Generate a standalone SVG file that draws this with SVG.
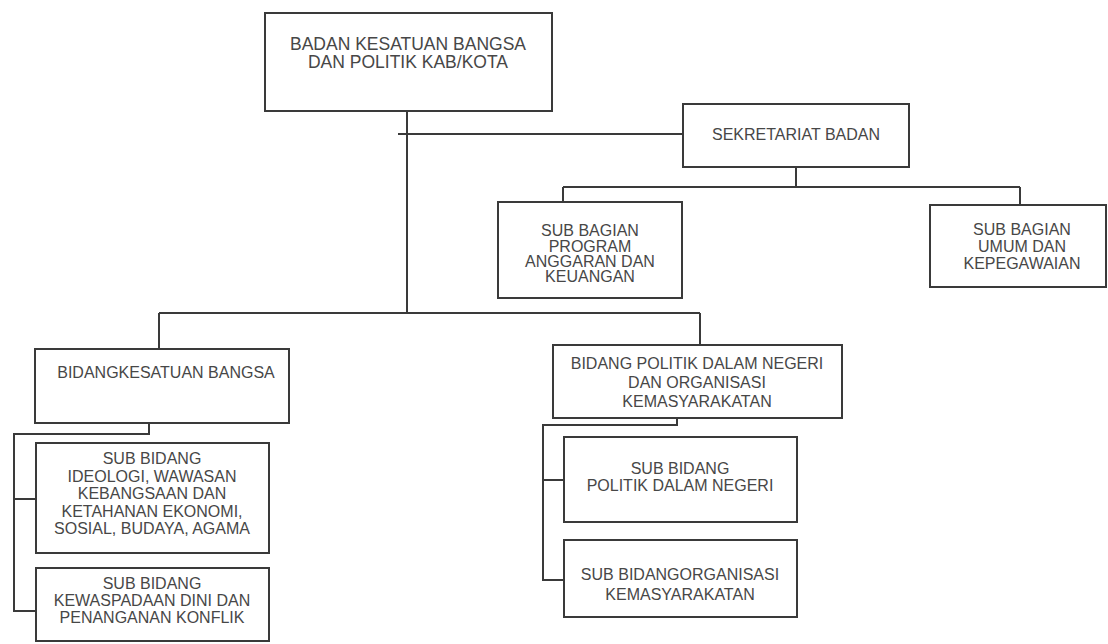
<svg xmlns="http://www.w3.org/2000/svg" width="1108" height="644" viewBox="0 0 1108 644">
<style>
.box{fill:#fff;stroke:#3a3a3a;stroke-width:2}
.ln{fill:none;stroke:#3a3a3a;stroke-width:2}
text{font-family:"Liberation Sans",Arial,sans-serif;font-size:16px;fill:#474747;text-anchor:middle}
.big{font-size:17.5px}
</style>
<rect width="1108" height="644" fill="#fff"/>
<g id="connectors">
<path class="ln" d="M407 111V313M398 134H683M159 313H700M159 313V349M700 313V345"/>
<path class="ln" d="M796 167V187M563 187H1020M563 187V202M1020 187V205"/>
<path class="ln" d="M149 423V434H14V611H36M14 499H36"/>
<path class="ln" d="M677 418V425H543V580H564M543 480H564"/>
</g>
<g id="n-badan">
<rect class="box" x="265" y="13" width="287" height="98"/>
<text class="big" x="408" y="50">BADAN KESATUAN BANGSA</text>
<text class="big" x="408" y="68">DAN POLITIK KAB/KOTA</text>
</g>
<g id="n-sekretariat">
<rect class="box" x="683" y="104" width="226" height="63"/>
<text x="796" y="140">SEKRETARIAT BADAN</text>
</g>
<g id="n-program">
<rect class="box" x="498" y="202" width="184" height="96"/>
<text x="590" y="236">SUB BAGIAN</text>
<text x="590" y="252">PROGRAM</text>
<text x="590" y="267">ANGGARAN DAN</text>
<text x="590" y="282">KEUANGAN</text>
</g>
<g id="n-umum">
<rect class="box" x="930" y="205" width="176" height="82"/>
<text x="1022" y="235">SUB BAGIAN</text>
<text x="1022" y="252">UMUM DAN</text>
<text x="1022" y="269">KEPEGAWAIAN</text>
</g>
<g id="n-bidang-kb">
<rect class="box" x="35" y="349" width="254" height="74"/>
<text x="166" y="378">BIDANGKESATUAN BANGSA</text>
</g>
<g id="n-ideologi">
<rect class="box" x="36" y="443" width="233" height="110"/>
<text x="152" y="464">SUB BIDANG</text>
<text x="152" y="482">IDEOLOGI, WAWASAN</text>
<text x="152" y="499">KEBANGSAAN DAN</text>
<text x="152" y="517">KETAHANAN EKONOMI,</text>
<text x="152" y="534">SOSIAL, BUDAYA, AGAMA</text>
</g>
<g id="n-kewaspadaan">
<rect class="box" x="36" y="568" width="233" height="73"/>
<text x="152" y="589">SUB BIDANG</text>
<text x="152" y="606">KEWASPADAAN DINI DAN</text>
<text x="152" y="623">PENANGANAN KONFLIK</text>
</g>
<g id="n-bidang-politik">
<rect class="box" x="553" y="345" width="289" height="73"/>
<text x="697" y="369">BIDANG POLITIK DALAM NEGERI</text>
<text x="697" y="388">DAN ORGANISASI</text>
<text x="697" y="407">KEMASYARAKATAN</text>
</g>
<g id="n-pdn">
<rect class="box" x="564" y="437" width="233" height="85"/>
<text x="680" y="474">SUB BIDANG</text>
<text x="680" y="491">POLITIK DALAM NEGERI</text>
</g>
<g id="n-organisasi">
<rect class="box" x="564" y="540" width="233" height="77"/>
<text x="680" y="580">SUB BIDANGORGANISASI</text>
<text x="680" y="600">KEMASYARAKATAN</text>
</g>
</svg>
